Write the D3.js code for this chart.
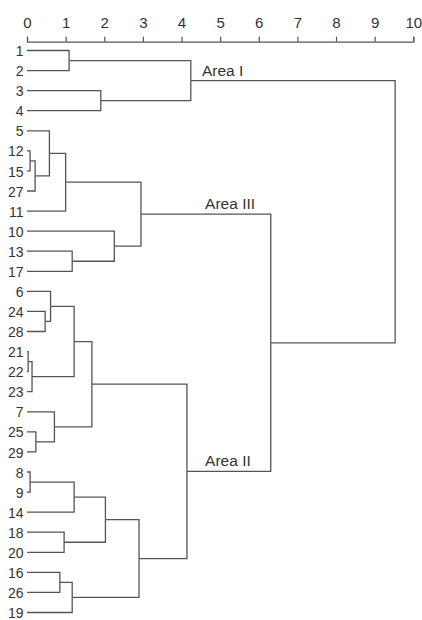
<!DOCTYPE html>
<html>
<head>
<meta charset="utf-8">
<script src="https://cdn.jsdelivr.net/npm/d3@7"></script>
<style>
  body { margin: 0; background: #fff; }
  text { font-family: "Liberation Sans", Arial, sans-serif; fill: #333; }
  .link { fill: none; stroke: #555; stroke-width: 1.3; }
  .axis path, .axis line { stroke: #555; stroke-width: 1.2; }
  .axis text { font-size: 15px; fill: #333; }
</style>
</head>
<body>
<div id="chart"></div>
<script>
// leaf order, top to bottom
var leaves = ["1","2","3","4","5","12","15","27","11","10","13","17","6","24","28",
              "21","22","23","7","25","29","8","9","14","18","20","16","26","19"];

// merges: [left, right, height]; "mN" refers to the N-th merge
var merges = [
    ["1","2",1.09],      // m0
    ["3","4",1.91],      // m1
    ["m0","m1",4.24],    // m2  Area I
    ["12","15",0.08],    // m3
    ["m3","27",0.21],    // m4
    ["5","m4",0.58],     // m5
    ["m5","11",1.00],    // m6
    ["13","17",1.17],    // m7
    ["10","m7",2.26],    // m8
    ["m6","m8",2.95],    // m9  Area III
    ["24","28",0.47],    // m10
    ["6","m10",0.61],    // m11
    ["21","22",0.03],    // m12
    ["m12","23",0.13],   // m13
    ["m11","m13",1.22],  // m14
    ["25","29",0.23],    // m15
    ["7","m15",0.71],    // m16
    ["m14","m16",1.68],  // m17
    ["8","9",0.08],      // m18
    ["m18","14",1.22],   // m19
    ["18","20",0.96],    // m20
    ["m19","m20",2.03],  // m21
    ["16","26",0.85],    // m22
    ["m22","19",1.17],   // m23
    ["m21","m23",2.90],  // m24
    ["m17","m24",4.14],  // m25 Area II
    ["m9","m25",6.31],   // m26
    ["m2","m26",9.53]    // m27 root
];

var areaNames = ["Area I", "Area III", "Area II"];
var areaNodes = ["m2", "m9", "m25"];

var xTicks = [0,1,2,3,4,5,6,7,8,9,10];

var width = 422, height = 620;
var x0 = 27, x1 = 413.3, yTop = 50.5, yBottom = 612.5, axisY = 41.7;

var svg = d3.select("#chart").append("svg")
    .attr("width", width)
    .attr("height", height);

// build nested tree from merge list
var nodes = {};
leaves.forEach(function(l){ nodes[l] = {name: l, h: 0}; });
merges.forEach(function(m, i){
    nodes["m"+i] = {name: "m"+i, h: m[2], children: [nodes[m[0]], nodes[m[1]]]};
});
var rootData = nodes["m"+(merges.length-1)];

var root = d3.hierarchy(rootData);
d3.cluster()
    .size([1, 1])
    .separation(function(){ return 1; })(root);

var xScale = d3.scaleLinear().domain([0, 10]).range([x0, x1]);

// leaves run from the first to the last row
var leafX = d3.extent(root.leaves(), function(d){ return d.x; });
var yScale = d3.scaleLinear().domain(leafX).range([yTop, yBottom]);

root.each(function(d){
    d.py = yScale(d.x);
    d.px = xScale(d.data.h);
});

// axis
var axis = d3.axisTop(xScale)
    .tickValues(xTicks)
    .tickFormat(d3.format("d"))
    .tickSizeInner(5)
    .tickSizeOuter(5)
    .tickPadding(9);

svg.append("g")
    .attr("class", "axis")
    .attr("transform", "translate(0," + axisY + ")")
    .call(axis);

// links (elbow)
svg.selectAll("path.link")
    .data(root.descendants().filter(function(d){ return d.parent; }))
    .enter().append("path")
    .attr("class", "link")
    .attr("d", function(d){
        return "M" + d.px + "," + d.py + "H" + d.parent.px + "V" + d.parent.py;
    });

// leaf labels
svg.selectAll("text.leaf")
    .data(root.leaves())
    .enter().append("text")
    .attr("class", "leaf")
    .attr("x", x0 - 3.5)
    .attr("y", function(d){ return d.py; })
    .attr("dy", "0.4em")
    .attr("text-anchor", "end")
    .style("font-size", "14px")
    .text(function(d){ return d.data.name; });

// area labels
var byName = {};
root.each(function(d){ byName[d.data.name] = d; });
svg.selectAll("text.area")
    .data(areaNames)
    .enter().append("text")
    .attr("class", "area")
    .attr("x", function(d, i){ return i === 0 ? xScale(4.53) : xScale(4.61); })
    .attr("y", function(d, i){ return byName[areaNodes[i]].py - 5; })
    .style("font-size", "15.5px")
    .text(function(d){ return d; });
</script>
</body>
</html>
